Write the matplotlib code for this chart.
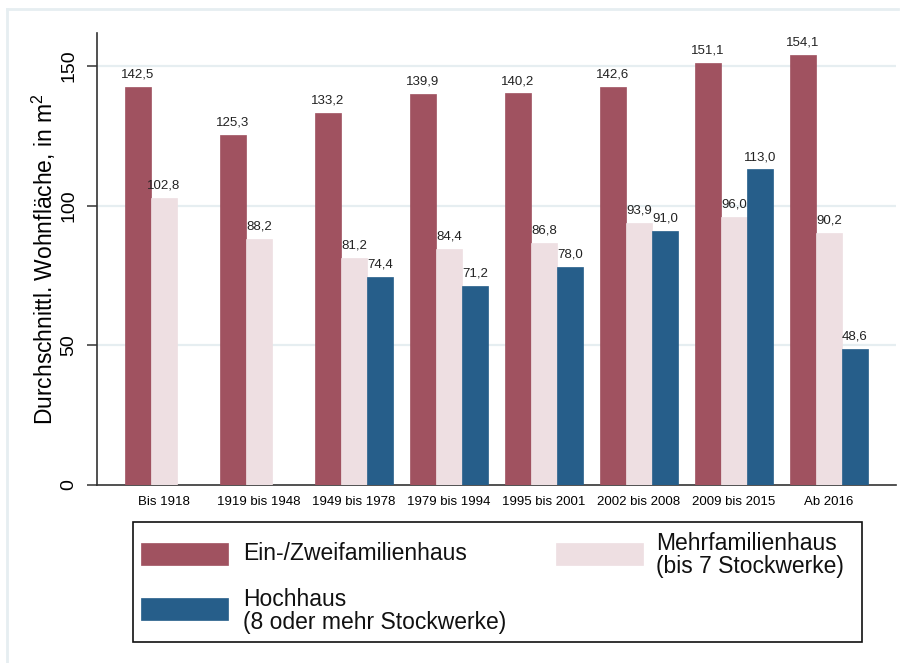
import matplotlib
matplotlib.use("Agg")
import matplotlib.pyplot as plt
import numpy as np
from matplotlib.patches import Rectangle
from matplotlib.lines import Line2D

plt.rcParams['font.family'] = ['Liberation Sans', 'DejaVu Sans']
plt.rcParams['mathtext.fontset'] = 'custom'
plt.rcParams['mathtext.rm'] = 'Liberation Sans'
plt.rcParams['mathtext.it'] = 'Liberation Sans'

categories = ["Bis 1918", "1919 bis 1948", "1949 bis 1978", "1979 bis 1994",
              "1995 bis 2001", "2002 bis 2008", "2009 bis 2015", "Ab 2016"]
ein_zwei = [142.5, 125.3, 133.2, 139.9, 140.2, 142.6, 151.1, 154.1]
mehr = [102.8, 88.2, 81.2, 84.4, 86.8, 93.9, 96.0, 90.2]
hoch = [None, None, 74.4, 71.2, 78.0, 91.0, 113.0, 48.6]
series_labels = ["Ein-/Zweifamilienhaus", "Mehrfamilienhaus\n(bis 7 Stockwerke)",
                 "Hochhaus\n(8 oder mehr Stockwerke)"]
colors = ["#A05260", "#EEDFE2", "#265E8A"]
yticks = [0, 50, 100, 150]

W, H = 903, 663
fig = plt.figure(figsize=(W / 100, H / 100), dpi=100)

def fx(px):
    return px / W

def fy(py):
    return 1 - py / H

# outer light frame (top and left)
fig.add_artist(Line2D([fx(7), fx(898)], [fy(9), fy(9)], color="#E6EEF1", lw=2.0))
fig.add_artist(Line2D([fx(7), fx(7)], [fy(9), fy(663)], color="#E6EEF1", lw=2.0))

ax = fig.add_axes([fx(96.7), fy(485), fx(896) - fx(96.7), fy(33) - fy(485)])
x = np.arange(len(categories))
bw = 0.274
series = [ein_zwei, mehr, hoch]
for i, (vals, col) in enumerate(zip(series, colors)):
    offs = (i - 1) * bw
    xs = [xi + offs for xi, v in zip(x, vals) if v is not None]
    vs = [v for v in vals if v is not None]
    ax.bar(xs, vs, width=bw, color=col, edgecolor=col, linewidth=0.5, zorder=3)
    for xx, v in zip(xs, vs):
        ax.annotate(f"{v:.1f}".replace(".", ","), (xx, v), xytext=(0, 4.5),
                    textcoords="offset points", ha="center", va="bottom",
                    fontsize=9.5, color="#222222", zorder=4)

ax.set_xlim(-0.708, len(categories) - 1 + 0.705)
ax.set_ylim(0, 161.8)
ax.set_yticks(yticks)
ax.set_yticklabels([str(t) for t in yticks], fontsize=14, rotation=90, va="center")
ax.set_xticks(x)
ax.set_xticklabels(categories, fontsize=9.5)
ax.tick_params(axis="x", length=0, pad=8)
ax.tick_params(axis="y", length=7.2, width=1.1, pad=6.5, color="#333333")
for t in yticks[1:]:
    ax.axhline(t, color="#E6EEF1", lw=1.6, zorder=1)
for s in ["top", "right"]:
    ax.spines[s].set_visible(False)
for s in ["left", "bottom"]:
    ax.spines[s].set_linewidth(1.2)
    ax.spines[s].set_color("#333333")
fig.text(fx(44), fy(259), "Durchschnittl. Wohnfläche, in m$^{2}$", rotation=90,
         ha="center", va="center", fontsize=16.5)

# legend drawn manually
fig.add_artist(Rectangle((fx(133), fy(642)), fx(862) - fx(133), fy(522) - fy(642),
                         transform=fig.transFigure, fill=False, edgecolor="#111111", lw=1.2))
leg_items = [
    (0, 141, 543, 243, 554),
    (1, 556, 543, 656, 555),
    (2, 141, 598, 243, 611),
]
for idx, px, py, tx, ty in leg_items:
    fig.add_artist(Rectangle((fx(px), fy(py + 22)), fx(87), fy(0) - fy(22),
                             transform=fig.transFigure, facecolor=colors[idx],
                             edgecolor=colors[idx], lw=0.5))
    fig.text(fx(tx), fy(ty), series_labels[idx], ha="left", va="center",
             fontsize=16.5, linespacing=1.05, color="#111111")

fig.savefig("out.png", dpi=100, facecolor="white")
